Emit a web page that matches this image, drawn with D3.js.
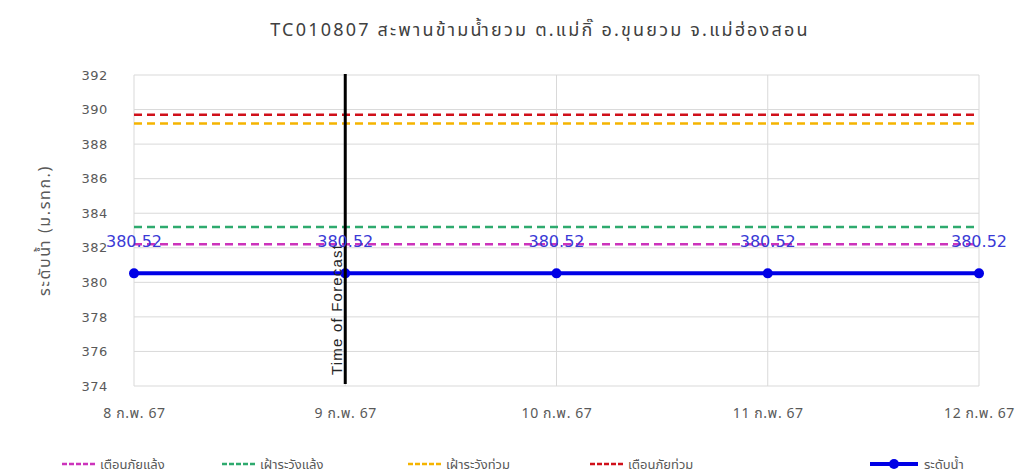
<!DOCTYPE html>
<html>
<head>
<meta charset="utf-8">
<script src="https://cdn.jsdelivr.net/npm/d3@7"></script>
<style>
  body { margin: 0; background: #fff; }
  svg { display: block; }
  text { font-family: Tahoma, "Noto Sans Thai", "Noto Sans", "DejaVu Sans", sans-serif; }
</style>
</head>
<body>
<svg id="chart" width="1023" height="475"></svg>
<script>
// ---- data ----
const categories = ["8 ก.พ. 67", "9 ก.พ. 67", "10 ก.พ. 67", "11 ก.พ. 67", "12 ก.พ. 67"];
const waterLevel = [380.52, 380.52, 380.52, 380.52, 380.52];
const droughtWarning = [382.2, 382.2, 382.2, 382.2, 382.2];   // เตือนภัยแล้ง
const droughtWatch   = [383.2, 383.2, 383.2, 383.2, 383.2];   // เฝ้าระวังแล้ง
const floodWatch     = [389.2, 389.2, 389.2, 389.2, 389.2];   // เฝ้าระวังท่วม
const floodWarning   = [389.7, 389.7, 389.7, 389.7, 389.7];   // เตือนภัยท่วม
const yTicks = [374, 376, 378, 380, 382, 384, 386, 388, 390, 392];
const forecastCategory = "9 ก.พ. 67";
const titleText = "TC010807 สะพานข้ามน้ำยวม ต.แม่กิ๊ อ.ขุนยวม จ.แม่ฮ่องสอน";
const yTitle = "ระดับน้ำ (ม.รทก.)";

const seriesDefs = [
  { name: "เตือนภัยแล้ง", values: droughtWarning, color: "#cc33bb", dashed: true },
  { name: "เฝ้าระวังแล้ง", values: droughtWatch, color: "#2eaa6e", dashed: true },
  { name: "เฝ้าระวังท่วม", values: floodWatch, color: "#f5b400", dashed: true },
  { name: "เตือนภัยท่วม", values: floodWarning, color: "#d0101a", dashed: true },
  { name: "ระดับน้ำ", values: waterLevel, color: "#0000e6", dashed: false }
];

// ---- layout ----
const svg = d3.select("#chart");
const L = 134, R = 979, T = 75, B = 386;

const x = d3.scalePoint().domain(categories).range([L, R]);
const y = d3.scaleLinear().domain([374, 392]).range([B, T]);

// title
svg.append("text")
  .attr("x", 540).attr("y", 36)
  .attr("text-anchor", "middle")
  .attr("font-size", 18)
  .attr("letter-spacing", 2.2)
  .attr("fill", "#404040")
  .text(titleText);

// gridlines
const g = svg.append("g");
g.selectAll(".hg").data(yTicks).join("line")
  .attr("x1", L).attr("x2", R)
  .attr("y1", d => y(d)).attr("y2", d => y(d))
  .attr("stroke", "#d9d9d9").attr("stroke-width", 1);
g.selectAll(".vg").data(categories).join("line")
  .attr("x1", d => x(d)).attr("x2", d => x(d))
  .attr("y1", T).attr("y2", B)
  .attr("stroke", "#d9d9d9").attr("stroke-width", 1);

// y axis
const yAxis = d3.axisLeft(y).tickValues(yTicks).tickSize(0).tickPadding(26).tickFormat(d3.format("d"));
const ya = svg.append("g").attr("transform", `translate(${L},0)`).call(yAxis);
ya.select(".domain").remove();
ya.selectAll("text").attr("font-size", 13).attr("fill", "#595959")
  .attr("letter-spacing", 0.6)
  .style("font-family", "'DejaVu Sans', sans-serif");

// x axis
const xAxis = d3.axisBottom(x).tickSize(0).tickPadding(22);
const xa = svg.append("g").attr("transform", `translate(0,${B})`).call(xAxis);
xa.select(".domain").remove();
xa.selectAll("text").attr("font-size", 14).attr("letter-spacing", 0.6).attr("fill", "#595959");

// y title
svg.append("text")
  .attr("transform", `translate(50,${(T + B) / 2}) rotate(-90)`)
  .attr("text-anchor", "middle")
  .attr("font-size", 16)
  .attr("letter-spacing", 1.6)
  .attr("fill", "#595959")
  .text(yTitle);

// series lines
const line = d3.line().x((d, i) => x(categories[i])).y(d => y(d));
seriesDefs.forEach(s => {
  const p = svg.append("path")
    .datum(s.values)
    .attr("d", line)
    .attr("fill", "none")
    .attr("stroke", s.color)
    .attr("stroke-width", s.dashed ? 2.5 : 4);
  if (s.dashed) p.attr("stroke-dasharray", "8,5");
});

// markers for water level
svg.selectAll(".pt").data(waterLevel).join("circle")
  .attr("cx", (d, i) => x(categories[i]))
  .attr("cy", d => y(d))
  .attr("r", 5)
  .attr("fill", "#0000e6");

// forecast line
const fx = x(forecastCategory);
svg.append("text")
  .attr("transform", `translate(${fx - 3},${B - 11}) rotate(-90)`)
  .attr("font-size", 15)
  .attr("letter-spacing", 1.2)
  .attr("fill", "#262626")
  .style("font-family", "'Liberation Sans', Arial, sans-serif")
  .text("Time of Forecast");
svg.append("line")
  .attr("x1", fx).attr("x2", fx)
  .attr("y1", T - 1).attr("y2", B - 2)
  .attr("stroke", "#000").attr("stroke-width", 3);

// data labels
svg.selectAll(".lbl").data(waterLevel).join("text")
  .attr("x", (d, i) => x(categories[i]))
  .attr("y", d => y(d) - 26)
  .attr("text-anchor", "middle")
  .attr("font-size", 16)
  .attr("fill", "#3a3ad6")
  .style("font-family", "'DejaVu Sans', sans-serif")
  .text(d => d.toFixed(2));

// legend
const legendX = [62, 222, 408, 590, 870];
const ly = 464;
seriesDefs.forEach((s, i) => {
  const lg = svg.append("g").attr("transform", `translate(${legendX[i]},${ly})`);
  if (s.dashed) {
    lg.append("line").attr("x1", 0).attr("x2", 34).attr("y1", 0).attr("y2", 0)
      .attr("stroke", s.color).attr("stroke-width", 2.5).attr("stroke-dasharray", "5,2");
    lg.append("text").attr("x", 38).attr("y", 0).attr("dy", "0.35em")
      .attr("font-size", 13).attr("fill", "#595959").text(s.name);
  } else {
    lg.append("line").attr("x1", 0).attr("x2", 48).attr("y1", 0).attr("y2", 0)
      .attr("stroke", s.color).attr("stroke-width", 4);
    lg.append("circle").attr("cx", 24).attr("cy", 0).attr("r", 5).attr("fill", s.color);
    lg.append("text").attr("x", 54).attr("y", 0).attr("dy", "0.35em")
      .attr("font-size", 13).attr("fill", "#595959").text(s.name);
  }
});
</script>
</body>
</html>
